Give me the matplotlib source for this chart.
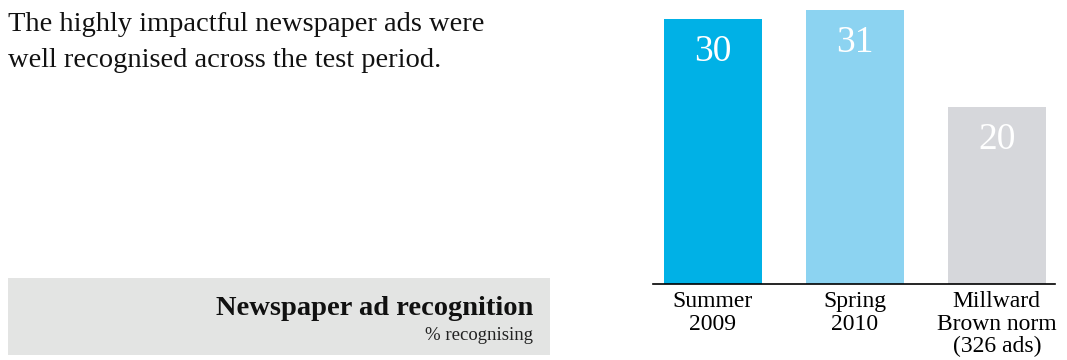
import numpy as np
import matplotlib.pyplot as plt
from matplotlib.patches import Rectangle

categories = ['Summer\n2009', 'Spring\n2010', 'Millward\nBrown norm\n(326 ads)']
values = [30, 31, 20]
colours = ['#00b1e6', '#8cd3f1', '#d6d7db']
headline = ['The highly impactful newspaper ads were',
            'well recognised across the test period.']

plt.rcParams['font.family'] = ['Liberation Serif', 'DejaVu Serif']

fig = plt.figure(figsize=(10.67, 3.6), dpi=100)

# headline text on the left, one line at a time
for i, line in enumerate(headline):
    fig.text(8 / 1067, 1 - (31 + 36 * i) / 360, line,
             fontsize=20.5, ha='left', va='baseline', color='#111111')

# grey caption box
box = Rectangle((8 / 1067, 1 - 355 / 360), 542 / 1067, 77 / 360,
                transform=fig.transFigure, facecolor='#e3e4e3', edgecolor='none')
fig.patches.append(box)
fig.text(533 / 1067, 1 - 315 / 360, 'Newspaper ad recognition',
         fontsize=20.5, fontweight='bold', ha='right', va='baseline', color='#111111')
fig.text(533 / 1067, 1 - 340 / 360, '% recognising',
         fontsize=13.5, ha='right', va='baseline', color='#222222')

ax = fig.add_axes([653 / 1067, 1 - 284 / 360, 402 / 1067, 284 / 360])
x = np.arange(len(values))
bars = ax.bar(x, values, width=0.69, color=colours)
for xi, v in zip(x, values):
    ax.text(xi, v - 3.7, str(v), ha='center', va='center',
            fontsize=27, color='white')

ax.set_xlim(-0.42, 2.41)
ax.set_ylim(0, 32.1)
ax.set_xticks(x)
ax.set_xticklabels(categories, fontsize=17, linespacing=1.1)
ax.tick_params(axis='x', length=0, pad=5)
ax.set_yticks([])
for s in ['top', 'left', 'right']:
    ax.spines[s].set_visible(False)
ax.spines['bottom'].set_linewidth(1.2)

fig.savefig('out.png', dpi=100)
